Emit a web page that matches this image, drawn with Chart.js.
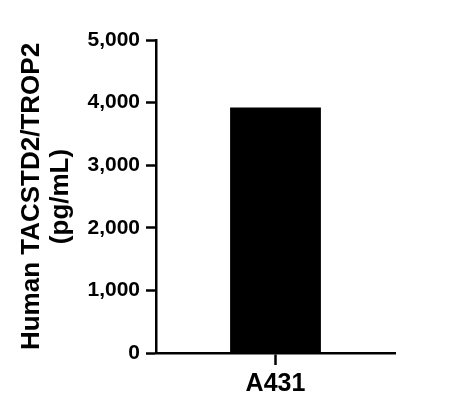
<!DOCTYPE html>
<html>
<head>
<meta charset="utf-8">
<script src="https://cdn.jsdelivr.net/npm/chart.js@4/dist/chart.umd.min.js"></script>
<style>
    html, body { margin: 0; padding: 0; background: #fff; }
    #wrap { width: 474px; height: 414px; }
</style>
</head>
<body>
<div id="wrap"><canvas id="chart" width="474" height="414"></canvas></div>
<script>
const categories = ['A431'];
const concentrations = [3920];
const yTicks = [0, 1000, 2000, 3000, 4000, 5000];
const yTitle = ['Human TACSTD2/TROP2', '(pg/mL)'];

document.addEventListener('DOMContentLoaded', function() {
    const ctx = document.getElementById('chart').getContext('2d');
    const fontFamily = '"Liberation Sans", Arial, Helvetica, sans-serif';

    new Chart(ctx, {
        type: 'bar',
        data: {
            labels: categories,
            datasets: [{
                data: concentrations,
                backgroundColor: '#000',
                borderWidth: 0,
                barPercentage: 0.38,
                categoryPercentage: 1
            }]
        },
        options: {
            responsive: false,
            animation: false,
            layout: { padding: { top: 40, right: 79, bottom: 0, left: 0 } },
            plugins: {
                legend: { display: false },
                tooltip: { enabled: false }
            },
            scales: {
                x: {
                    grid: {
                        offset: false,
                        drawOnChartArea: false,
                        drawTicks: true,
                        tickLength: 12,
                        tickWidth: 2.5,
                        tickColor: '#000'
                    },
                    border: { color: '#000', width: 2.5 },
                    ticks: {
                        color: '#000',
                        padding: 4,
                        font: { family: fontFamily, size: 25, weight: 'bold' }
                    },
                    afterFit: function(scale) { scale.height = 61; }
                },
                y: {
                    min: 0,
                    max: 5000,
                    afterBuildTicks: function(scale) {
                        scale.ticks = yTicks.map(v => ({ value: v }));
                    },
                    grid: {
                        drawOnChartArea: false,
                        tickLength: 10,
                        tickWidth: 2.5,
                        tickColor: '#000'
                    },
                    border: { color: '#000', width: 2.5 },
                    ticks: {
                        color: '#000',
                        padding: 6,
                        font: { family: fontFamily, size: 21, weight: 'bold' },
                        callback: v => v.toLocaleString('en-US')
                    },
                    title: {
                        display: true,
                        text: yTitle,
                        color: '#000',
                        padding: { top: 18, bottom: 0 },
                        font: { family: fontFamily, size: 26, weight: 'bold', lineHeight: 1.1 }
                    },
                    afterFit: function(scale) { scale.width = 156; }
                }
            }
        }
    });
});
</script>
</body>
</html>
